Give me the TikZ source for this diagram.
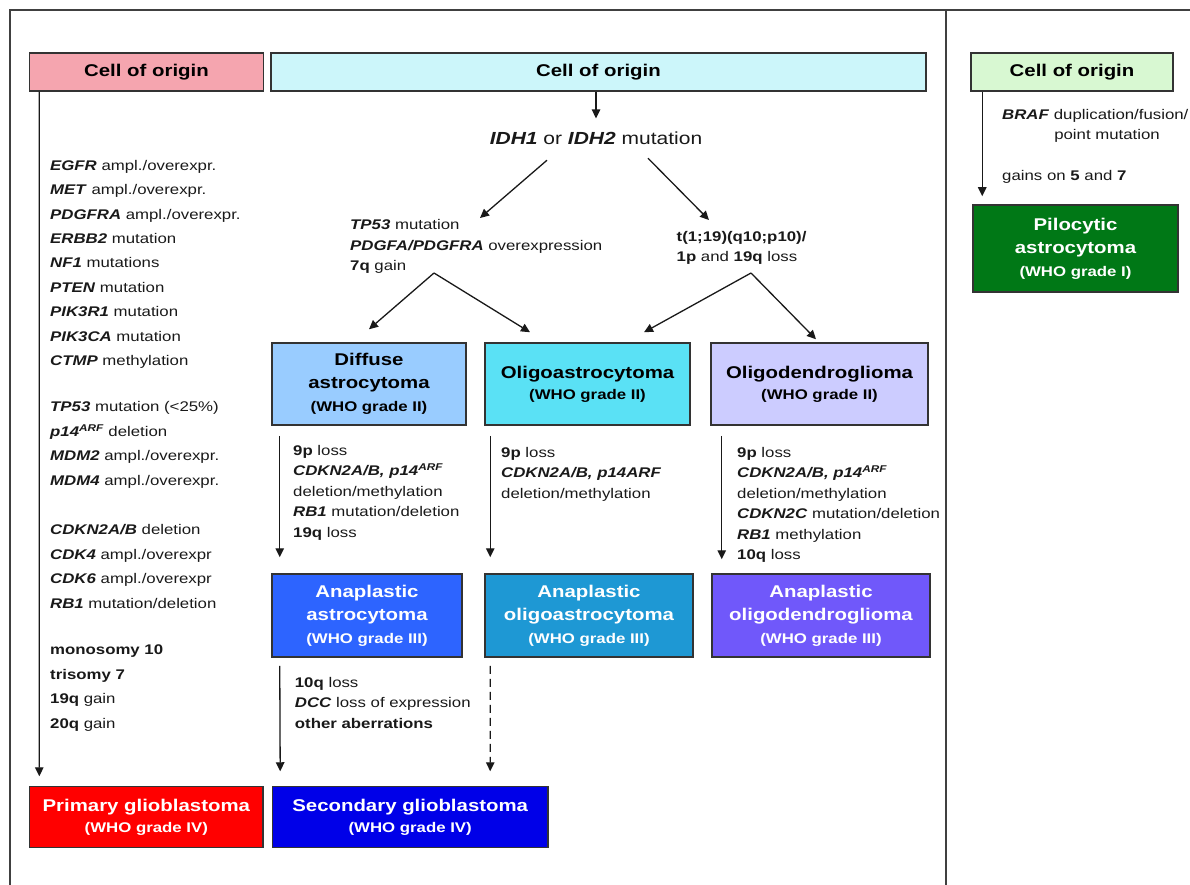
\documentclass[tikz,border=0pt]{standalone}
\usepackage{fontspec}
\setmainfont{Liberation Sans}[FakeStretch=1.2]
\usetikzlibrary{positioning, arrows.meta, calc}
\definecolor{originpink}{RGB}{245,165,175}
\definecolor{origincyan}{RGB}{204,246,250}
\definecolor{origingreen}{RGB}{216,248,210}
\definecolor{diffblue}{RGB}{153,204,255}
\definecolor{oligocyan}{RGB}{90,225,245}
\definecolor{oligolav}{RGB}{204,204,255}
\definecolor{anablue}{RGB}{45,100,255}
\definecolor{anateal}{RGB}{30,152,212}
\definecolor{anaviolet}{RGB}{112,88,250}
\definecolor{primred}{RGB}{255,0,0}
\definecolor{secblue}{RGB}{0,0,232}
\definecolor{piloGreen}{RGB}{0,120,22}
\newcommand{\gene}[1]{\textbf{\textit{#1}}}
\newcommand{\chr}[1]{\textbf{#1}}
\newcommand{\whograde}[1]{{\fontsize{14}{16}\selectfont(WHO grade #1)}}

\begin{document}
\begin{tikzpicture}[x=1pt, y=1pt,
    box/.style={draw=black!80, line width=1.5pt, align=center, inner sep=1pt,
      font=\fontsize{17}{23}\selectfont\bfseries},
    txt/.style={anchor=north west, align=left, inner sep=0pt, text=black!90,
      font=\fontsize{14}{20.5}\selectfont},
    arr/.style={-{Triangle[length=9pt, width=8.5pt]}, line width=1.3pt, draw=black!90}]
  \useasboundingbox (0,0) rectangle (1190,-885);
  % frame
  \draw[line width=1.6pt, draw=black!75] (10,-885) -- (10,-10) -- (1190,-10);
  \draw[line width=1.6pt, draw=black!75] (946,-10) -- (946,-885);

  % cells of origin
  \node[box, fill=originpink, minimum width=234pt, minimum height=38pt] (originA) at (146.5,-72) {Cell of origin};
  \node[box, fill=origincyan, minimum width=655pt, minimum height=38pt] (originB) at (598.5,-72) {Cell of origin};
  \node[box, fill=origingreen, minimum width=202pt, minimum height=38pt] (originC) at (1072,-72) {Cell of origin};

  % primary pathway
  \node[txt, font=\fontsize{14}{24.4}\selectfont] (grpA) at (50,-160) {\gene{EGFR} ampl./overexpr.\\
    \gene{MET} ampl./overexpr.\\ \gene{PDGFRA} ampl./overexpr.\\ \gene{ERBB2} mutation\\
    \gene{NF1} mutations\\ \gene{PTEN} mutation\\ \gene{PIK3R1} mutation\\
    \gene{PIK3CA} mutation\\ \gene{CTMP} methylation};
  \node[txt, font=\fontsize{14}{24.4}\selectfont] (grpB) at (50,-401.5) {\gene{TP53} mutation (<25\%)\\
    \gene{p14\textsuperscript{ARF}} deletion\\ \gene{MDM2} ampl./overexpr.\\ \gene{MDM4} ampl./overexpr.};
  \node[txt, font=\fontsize{14}{24.4}\selectfont] (grpC) at (50,-524.5) {\gene{CDKN2A/B} deletion\\
    \gene{CDK4} ampl./overexpr\\ \gene{CDK6} ampl./overexpr\\ \gene{RB1} mutation/deletion};
  \node[txt, font=\fontsize{14}{24.4}\selectfont] (grpD) at (50,-645) {\chr{monosomy 10}\\
    \chr{trisomy 7}\\ \chr{19q} gain\\ \chr{20q} gain};
  \node[box, fill=primred, text=white, minimum width=233.5pt, minimum height=61pt] (primary) at (146.3,-817.2)
    {Primary glioblastoma\\[-2pt] \whograde{IV}};

  % IDH pathway
  \node[inner sep=0pt, text=black!90, font=\fontsize{17.5}{20}\selectfont] (idh) at (596,-138)
    {\gene{IDH1} or \gene{IDH2} mutation};
  \node[txt] (tp53) at (350,-219.5) {\gene{TP53} mutation\\
    \gene{PDGFA/PDGFRA} overexpression\\ \chr{7q} gain};
  \node[txt] (t119) at (676.5,-231) {\chr{t(1;19)(q10;p10)/}\\ \chr{1p} and \chr{19q} loss};
  \coordinate (forkA) at (434,-273);
  \coordinate (forkB) at (751,-273);

  \node[box, fill=diffblue, minimum width=194pt, minimum height=82pt] (diffuse) at (369,-384)
    {Diffuse\\ astrocytoma\\ \whograde{II}};
  \node[box, fill=oligocyan, minimum width=205pt, minimum height=82pt] (oligoastro) at (587.5,-384)
    {Oligoastrocytoma\\[-2pt] \whograde{II}};
  \node[box, fill=oligolav, minimum width=217pt, minimum height=82pt] (oligodendro) at (819.5,-384)
    {Oligodendroglioma\\[-2pt] \whograde{II}};

  \node[txt] (diffloss) at (293,-445) {\chr{9p} loss\\
    \gene{CDKN2A/B, p14\textsuperscript{ARF}}\\ deletion/methylation\\
    \gene{RB1} mutation/deletion\\ \chr{19q} loss};
  \node[txt] (oaloss) at (501,-447) {\chr{9p} loss\\
    \gene{CDKN2A/B, p14ARF}\\ deletion/methylation};
  \node[txt] (odloss) at (737,-447) {\chr{9p} loss\\
    \gene{CDKN2A/B, p14\textsuperscript{ARF}}\\ deletion/methylation\\
    \gene{CDKN2C} mutation/deletion\\ \gene{RB1} methylation\\ \chr{10q} loss};

  \node[box, fill=anablue, text=white, minimum width=190pt, minimum height=83pt] (anaastro) at (367,-615.5)
    {Anaplastic\\ astrocytoma\\ \whograde{III}};
  \node[box, fill=anateal, text=white, minimum width=208pt, minimum height=83pt] (anaoa) at (589,-615.5)
    {Anaplastic\\ oligoastrocytoma\\ \whograde{III}};
  \node[box, fill=anaviolet, text=white, minimum width=218pt, minimum height=83pt] (anaod) at (821,-615.5)
    {Anaplastic\\ oligodendroglioma\\ \whograde{III}};

  \node[txt] (secloss) at (294.7,-677) {\chr{10q} loss\\
    \gene{DCC} loss of expression\\ \chr{other aberrations}};
  \node[box, fill=secblue, text=white, minimum width=275.5pt, minimum height=61pt] (secondary) at (410.2,-817.2)
    {Secondary glioblastoma\\[-2pt] \whograde{IV}};

  % pilocytic pathway
  \node[txt] (braf) at (1002,-109.5) {\gene{BRAF} duplication/fusion/};
  \node[inner sep=0pt, text=black!90, font=\fontsize{14}{20.5}\selectfont] (brafpt) at (1107,-136) {point mutation};
  \node[txt] (gains) at (1002,-170.5) {gains on \chr{5} and \chr{7}};
  \node[box, fill=piloGreen, text=white, minimum width=205pt, minimum height=87pt] (pilo) at (1075.5,-248.5)
    {Pilocytic\\ astrocytoma\\ \whograde{I}};

  % arrows
  \draw[arr, shorten >=13pt] (originB.south -| idh.north) -- (idh.north);
  \draw[arr] ($(idh.south)+(-49,-15.6)$) -- ($(tp53.north west)+(130,1.5)$);
  \draw[arr] ($(idh.south)+(52,-13.6)$) -- ($(t119.north west)+(32.5,11)$);
  \draw[arr] (forkA) -- ($(diffuse.north)+(0,13)$);
  \draw[arr] (forkA) -- ($(oligoastro.north)+(-57.5,10)$);
  \draw[arr] (forkB) -- ($(oligoastro.north)+(56.5,10)$);
  \draw[arr] (forkB) -- ($(oligodendro.north)+(-3.5,3)$);
  \draw[arr] ($(originA.south west)+(10.5,0)$) -- ($(primary.north west)+(10.5,9.7)$);
  \draw[arr] ($(diffuse.south west)+(8.5,-10)$) -- ($(anaastro.north west)+(8.5,16)$);
  \draw[arr] ($(oligoastro.south west)+(6,-10)$) -- ($(anaoa.north west)+(6,16)$);
  \draw[arr] ($(oligodendro.south west)+(11.5,-10)$) -- ($(anaod.north west)+(10.5,14)$);
  \draw[arr] ($(anaastro.south west)+(8.5,-8)$) -- ($(secondary.north west)+(8.5,14.7)$);
  \draw[arr, dash pattern=on 8pt off 5pt] ($(anaoa.south west)+(6,-8)$) -- ($(secondary.north west)+(218.5,14.7)$);
  \draw[arr] ($(originC.south west)+(12,0)$) -- ($(pilo.north west)+(10,8)$);
\end{tikzpicture}
\end{document}
